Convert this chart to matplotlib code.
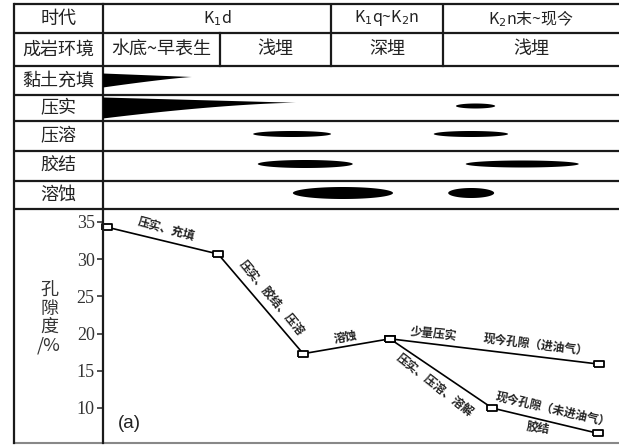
import numpy as np
import matplotlib
matplotlib.use('Agg')
import matplotlib.pyplot as plt
from matplotlib.patches import Polygon

plt.rcParams['font.family'] = ['Noto Sans CJK SC', 'DejaVu Sans']

# ---------------- data ----------------
row_headers = ['时代', '成岩环境']
era_labels = ['K$_1$d', 'K$_1$q~K$_2$n', 'K$_2$n末~现今']
era_bounds = [0, 44.2, 65.9, 100]
env_labels = ['水底~早表生', '浅埋', '深埋', '浅埋']
env_bounds = [0, 22.7, 44.2, 65.9, 100]
events = ['黏土充填', '压实', '压溶', '胶结', '溶蚀']

# decreasing (wedge-shaped) processes
wedge_event = [0, 1]
wedge_start = [0.0, 0.0]
wedge_end = [17.2, 37.4]
wedge_thick = [14, 21]
wedge_power = [1.2, 1.5]

# lens-shaped processes
lens_event = [1, 2, 2, 3, 3, 4, 4]
lens_start = [68.4, 29.1, 64.1, 30.0, 70.3, 36.8, 66.9]
lens_end = [76.0, 44.2, 78.5, 48.4, 92.2, 56.2, 75.8]
lens_thick = [5, 6, 6, 8, 7, 12, 10]

# porosity evolution
stage_main = [0.8, 22.3, 38.8, 55.6]
poro_main = [34.3, 30.7, 17.3, 19.3]
stage_oil = [55.6, 96.1]
poro_oil = [19.3, 15.9]
stage_dry = [55.6, 75.4, 95.9]
poro_dry = [19.3, 10.0, 6.6]
yticks = [10, 15, 20, 25, 30, 35]

seg_labels = ['压实、充填', '压实、胶结、压溶', '溶蚀', '少量压实', '现今孔隙（进油气）',
              '压实、压溶、溶解', '现今孔隙（未进油气）', '胶结']
seg_lab_x = [12.2, 32.6, 46.9, 64.0, 83.9, 64.3, 87.2, 84.3]
seg_lab_y = [34.06, 24.8, 19.5, 19.95, 18.47, 13.1, 9.73, 7.31]
seg_lab_rot = [-15, -50, 10, -6, -7, -38, -13, -8]

# ---------------- layout ----------------
W, H = 619, 445
LX, DX, RX = 14, 103, 619
row_edges = [4, 33, 66, 95, 121, 151, 181, 209]
BOT = 443
lc = '#1a1a1a'
lw = 1.6

fig = plt.figure(figsize=(W / 100, H / 100), dpi=100)


def rect(x0, y0, x1, y1):
    return [x0 / W, 1 - y1 / H, (x1 - x0) / W, (y1 - y0) / H]


ax_bg = fig.add_axes([0, 0, 1, 1])
ax_bg.set_xlim(0, W)
ax_bg.set_ylim(H, 0)
ax_bg.axis('off')

for y in row_edges:
    ax_bg.plot([LX, RX], [y, y], color=lc, lw=lw, solid_capstyle='butt')
ax_bg.plot([LX, RX], [BOT, BOT], color='#888888', lw=1.5)
ax_bg.plot([LX, LX], [row_edges[0], BOT], color=lc, lw=lw)
ax_bg.plot([DX, DX], [row_edges[0], row_edges[-1]], color=lc, lw=lw)

xc_left = (LX + DX) / 2
labels_left = row_headers + events
for i, lab in enumerate(labels_left):
    yc = (row_edges[i] + row_edges[i + 1]) / 2
    ax_bg.text(xc_left, yc, lab, ha='center', va='center', fontsize=13, color='#222222')

ax_bg.text(49, 318, '孔\n隙\n度\n/%', ha='center', va='center', fontsize=13,
           linespacing=1.0, color='#333333')

# ---- table (stage axis) ----
ax_top = fig.add_axes(rect(DX, row_edges[0], RX, row_edges[-1]))
ax_top.set_xlim(0, 100)
ax_top.set_ylim(row_edges[-1], row_edges[0])
ax_top.axis('off')

for b in era_bounds[1:-1]:
    ax_top.plot([b, b], [row_edges[0], row_edges[2]], color=lc, lw=lw)
for b in [env_bounds[1]]:
    ax_top.plot([b, b], [row_edges[1], row_edges[2]], color=lc, lw=lw)

y_era = (row_edges[0] + row_edges[1]) / 2
for i, lab in enumerate(era_labels):
    xc = (era_bounds[i] + era_bounds[i + 1]) / 2
    ax_top.text(xc, y_era, lab, ha='center', va='center', fontsize=11.5, color='#222222')
y_env = (row_edges[1] + row_edges[2]) / 2
for i, lab in enumerate(env_labels):
    xc = (env_bounds[i] + env_bounds[i + 1]) / 2
    ax_top.text(xc, y_env, lab, ha='center', va='center', fontsize=13, color='#222222')

# wedges
s = np.linspace(0, 1, 80)
for ev, x0, x1, T, p in zip(wedge_event, wedge_start, wedge_end, wedge_thick, wedge_power):
    yc = (row_edges[ev + 2] + row_edges[ev + 3]) / 2
    ytop0 = yc - T / 2
    ybot0 = yc + T / 2
    tip = yc - 0.25 * T
    xs = x0 + (x1 - x0) * s
    top = ytop0 + (tip - ytop0) * s
    bot = tip + (ybot0 - tip) * (1 - s) ** p
    pts = np.column_stack([np.concatenate([xs, xs[::-1]]), np.concatenate([top, bot[::-1]])])
    ax_top.add_patch(Polygon(pts, closed=True, facecolor='black', edgecolor='none'))

# lenses
t = np.linspace(0, 2 * np.pi, 120)
for ev, x0, x1, T in zip(lens_event, lens_start, lens_end, lens_thick):
    yc = (row_edges[ev + 2] + row_edges[ev + 3]) / 2 - 2
    xc = (x0 + x1) / 2
    xs = xc + (x1 - x0) / 2 * np.cos(t)
    ys = yc + T / 2 * np.sin(t)
    ax_top.add_patch(Polygon(np.column_stack([xs, ys]), closed=True,
                             facecolor='black', edgecolor='none'))

# ---- porosity plot ----
ppu = (408 - 222) / 25.0
ymax = 35 + (222 - row_edges[-1]) / ppu
ymin = 10 - (BOT - 408) / ppu
ax = fig.add_axes(rect(DX, row_edges[-1], RX, BOT))
ax.set_facecolor('none')
ax.set_xlim(0, 100)
ax.set_ylim(ymin, ymax)
for sp in ['top', 'right', 'bottom']:
    ax.spines[sp].set_visible(False)
ax.spines['left'].set_color(lc)
ax.spines['left'].set_linewidth(lw)
ax.set_xticks([])
ax.set_yticks(yticks)
ax.tick_params(axis='y', direction='out', length=4.5, width=1.2, pad=1.5,
               labelsize=13, colors='#333333')
for lab in ax.get_yticklabels():
    lab.set_fontfamily('Liberation Serif')

mk = [(-1, -0.62), (1, -0.62), (1, 0.62), (-1, 0.62), (-1, -0.62)]
style = dict(color='black', lw=1.2, marker=mk, markersize=7.5, markerfacecolor='white',
             markeredgecolor='black', markeredgewidth=1.3, clip_on=False)
ax.plot(stage_oil, poro_oil, **style)
ax.plot(stage_dry, poro_dry, **style)
ax.plot(stage_main, poro_main, **style)

for lab, x, y, r in zip(seg_labels, seg_lab_x, seg_lab_y, seg_lab_rot):
    ax.text(x, y, lab, ha='center', va='center', rotation=r, rotation_mode='anchor',
            fontsize=8.5, fontweight='bold', color='#222222')

ax.text(5.2, 7.85, '(a)', ha='center', va='center', fontsize=13.5,
        fontfamily='Liberation Sans', color='#222222')

fig.savefig('out.png', dpi=100)
